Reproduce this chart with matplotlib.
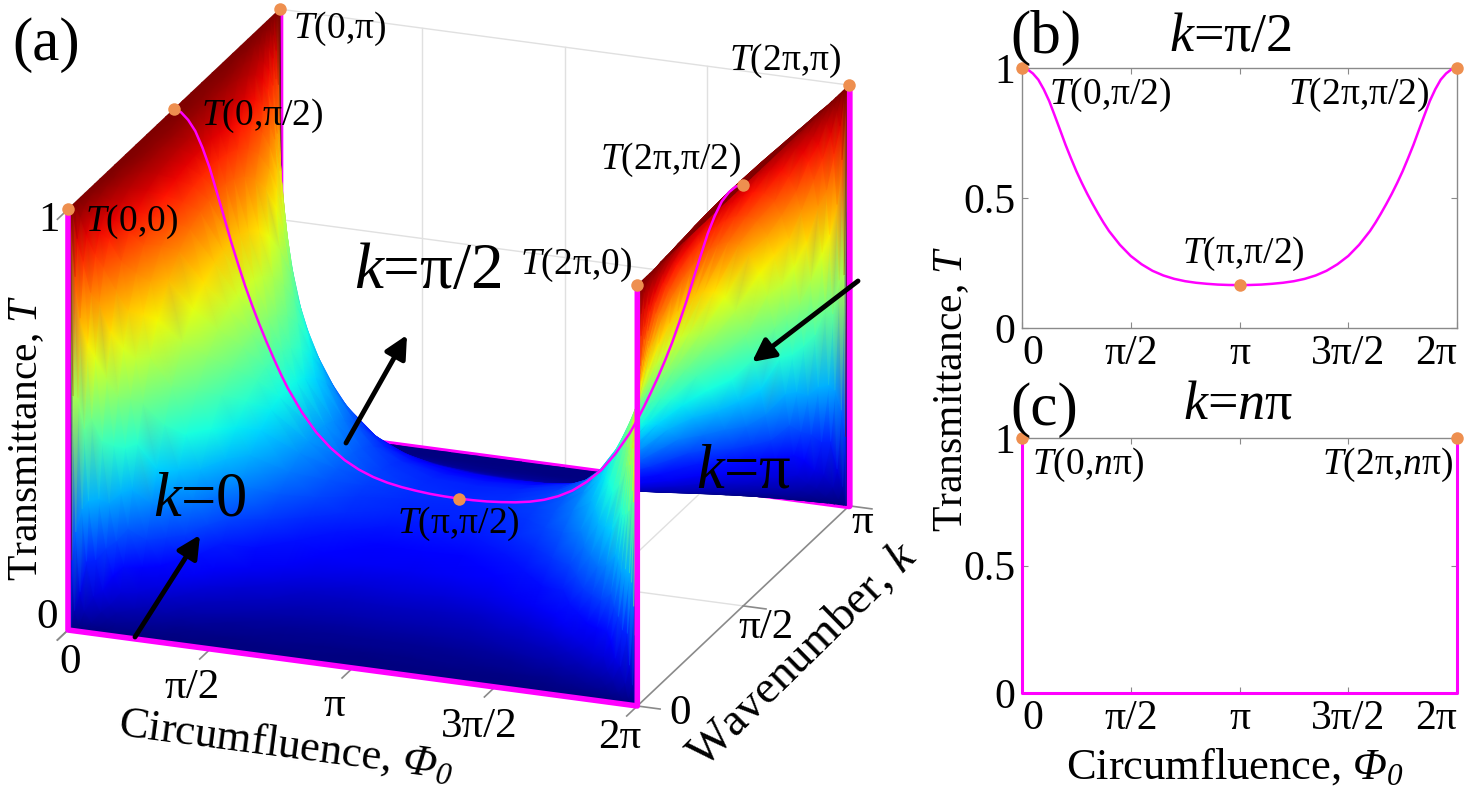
import numpy as np
import matplotlib
matplotlib.use("Agg")
import matplotlib.pyplot as plt
import matplotlib.tri as mtri
from mpl_toolkits.mplot3d import proj3d

plt.rcParams['font.family'] = ['Liberation Serif', 'DejaVu Serif']
plt.rcParams['mathtext.fontset'] = 'custom'
plt.rcParams['mathtext.rm'] = 'Liberation Serif'
plt.rcParams['mathtext.it'] = 'Liberation Serif:italic'
plt.rcParams['mathtext.bf'] = 'Liberation Serif:bold'
plt.rcParams['mathtext.cal'] = 'Liberation Serif:italic'

PI = np.pi
W, H = 1468, 792

# ---------------------------------------------------------------- data
# surface samples: Phi0/pi on [0, 1] (mirror-symmetric about pi)
phi_over_pi = [0, 0.01, 0.02, 0.035, 0.05, 0.075, 0.1, 0.125, 0.15, 0.2, 0.25,
               0.3, 0.35, 0.4, 0.5, 0.6, 0.7, 0.85, 1.0]
# surface samples: k/pi on [0, 1/2] (mirror-symmetric about pi/2)
k_over_pi = [0, 0.004, 0.01, 0.02, 0.03, 0.045, 0.06, 0.08, 0.1, 0.125, 0.15,
             0.185, 0.22, 0.27, 0.32, 0.37, 0.42, 0.46, 0.5]

# transmittance T(Phi0, k) along Phi0 for each k sample
T_k0000 = [1, 0, 0, 0, 0, 0, 0, 0, 0, 0, 0, 0, 0, 0, 0, 0, 0, 0, 0]
T_k0004 = [1, 0.165, 0.0457, 0.0154, 0.0075, 0.0034, 0.0018, 0.0011, 0.0007, 0.0004,
           0.0002, 0.0001, 0.0001, 0.0001, 0, 0, 0, 0, 0]
T_k0010 = [1, 0.552, 0.230, 0.089, 0.0449, 0.0206, 0.0109, 0.0067, 0.0044, 0.0024,
           0.0015, 0.0011, 0.0008, 0.0006, 0.0004, 0.0003, 0.0002, 0.0002, 0.0002]
T_k0020 = [1, 0.831, 0.544, 0.281, 0.158, 0.0774, 0.0423, 0.0264, 0.0174, 0.0093,
           0.0060, 0.0042, 0.0031, 0.0023, 0.0015, 0.0011, 0.0009, 0.0008, 0.0008]
T_k0030 = [1, 0.917, 0.729, 0.467, 0.297, 0.159, 0.0902, 0.0574, 0.0383, 0.0207,
           0.0133, 0.0094, 0.0069, 0.0052, 0.0034, 0.0025, 0.0021, 0.0018, 0.0017]
T_k0045 = [1, 0.961, 0.857, 0.663, 0.486, 0.297, 0.182, 0.120, 0.0819, 0.0453,
           0.0293, 0.0207, 0.0154, 0.0117, 0.0075, 0.0056, 0.0046, 0.0041, 0.0039]
T_k0060 = [1, 0.978, 0.914, 0.777, 0.626, 0.428, 0.282, 0.194, 0.136, 0.0774,
           0.0506, 0.0361, 0.0268, 0.0205, 0.0133, 0.0098, 0.0081, 0.0071, 0.0069]
T_k0080 = [1, 0.987, 0.949, 0.860, 0.747, 0.568, 0.409, 0.298, 0.2175, 0.1288,
           0.0859, 0.0619, 0.0463, 0.0355, 0.0231, 0.0171, 0.0142, 0.0125, 0.0121]
T_k0100 = [1, 0.992, 0.967, 0.904, 0.820, 0.670, 0.517, 0.396, 0.300, 0.186,
           0.1267, 0.0924, 0.0698, 0.0538, 0.0353, 0.0262, 0.0218, 0.0192, 0.0185]
T_k0125 = [1, 0.995, 0.978, 0.935, 0.875, 0.757, 0.621, 0.502, 0.397, 0.259,
           0.182, 0.135, 0.1032, 0.0801, 0.0531, 0.0397, 0.0330, 0.0291, 0.0281]
T_k0150 = [1, 0.996, 0.984, 0.953, 0.908, 0.814, 0.698, 0.586, 0.481, 0.330,
           0.238, 0.180, 0.139, 0.109, 0.0732, 0.0549, 0.0458, 0.0405, 0.0391]
T_k0185 = [1, 0.997, 0.989, 0.968, 0.935, 0.865, 0.771, 0.674, 0.575, 0.419,
           0.314, 0.243, 0.1915, 0.152, 0.1035, 0.0784, 0.0656, 0.0582, 0.0562]
T_k0220 = [1, 0.998, 0.992, 0.976, 0.951, 0.896, 0.820, 0.736, 0.646, 0.493,
           0.382, 0.302, 0.242, 0.195, 0.1347, 0.1028, 0.0865, 0.0768, 0.0743]
T_k0270 = [1, 0.999, 0.994, 0.982, 0.964, 0.923, 0.863, 0.795, 0.717, 0.574,
           0.461, 0.375, 0.307, 0.251, 0.1773, 0.137, 0.1159, 0.1033, 0.1001]
T_k0320 = [1, 0.999, 0.995, 0.986, 0.971, 0.938, 0.889, 0.830, 0.762, 0.630,
           0.520, 0.432, 0.359, 0.298, 0.2145, 0.1674, 0.1425, 0.1274, 0.1235]
T_k0370 = [1, 0.999, 0.996, 0.988, 0.976, 0.947, 0.904, 0.853, 0.791, 0.668,
           0.561, 0.473, 0.398, 0.334, 0.244, 0.192, 0.1641, 0.1471, 0.1427]
T_k0420 = [1, 0.999, 0.996, 0.989, 0.978, 0.952, 0.913, 0.866, 0.808, 0.692,
           0.588, 0.500, 0.424, 0.358, 0.2644, 0.2093, 0.1794, 0.1612, 0.1564]
T_k0460 = [1, 0.999, 0.997, 0.990, 0.979, 0.954, 0.917, 0.871, 0.816, 0.702,
           0.599, 0.512, 0.436, 0.369, 0.274, 0.2173, 0.1866, 0.1678, 0.1628]
T_k0500 = [1, 0.9992, 0.9967, 0.990, 0.979, 0.955, 0.918, 0.873, 0.818, 0.705,
           0.603, 0.516, 0.440, 0.373, 0.277, 0.220, 0.189, 0.170, 0.165]

# k = pi/2 profile: Phi0/pi on [0, 1] (mirror-symmetric about pi)
phi_b_over_pi = [0, 0.025, 0.05, 0.075, 0.1, 0.125, 0.15, 0.175, 0.2, 0.225, 0.25,
                 0.275, 0.3, 0.325, 0.35, 0.375, 0.4, 0.45, 0.5, 0.55, 0.6, 0.65,
                 0.7, 0.75, 0.8, 0.85, 0.9, 0.95, 1.0]
T_b = [1, 0.995, 0.979, 0.955, 0.918, 0.873, 0.818, 0.762, 0.705, 0.653, 0.603,
       0.558, 0.516, 0.477, 0.440, 0.405, 0.373, 0.320, 0.277, 0.245, 0.220, 0.202,
       0.189, 0.180, 0.174, 0.170, 0.167, 0.1655, 0.165]

# k = n*pi (panel c, and the k = 0 / k = pi edges of panel a)
phi_c_over_pi = [0, 0, 2, 2]
T_c = [1, 0, 0, 1]

# tick labels
phi_tick_over_pi = [0, 0.5, 1, 1.5, 2]
phi_tick_labels = ['0', 'π/2', 'π', '3π/2', '2π']
k_tick_over_pi = [0, 0.5, 1]
k_tick_labels = ['0', 'π/2', 'π']
T_ticks = [0, 0.5, 1]
T_tick_labels = ['0', '0.5', '1']

# ---------------------------------------------------------------- build grids
pq = np.array(phi_over_pi, float)
kq = np.array(k_over_pi, float)
rows = np.array([T_k0000, T_k0004, T_k0010, T_k0020, T_k0030, T_k0045, T_k0060,
                 T_k0080, T_k0100, T_k0125, T_k0150, T_k0185, T_k0220, T_k0270,
                 T_k0320, T_k0370, T_k0420, T_k0460, T_k0500], float)
phi_full = np.concatenate([pq, 2 - pq[-2::-1]]) * PI
k_full = np.concatenate([kq, 1 - kq[-2::-1]]) * PI
rows_phi = np.concatenate([rows, rows[:, -2::-1]], axis=1)
T_grid = np.concatenate([rows_phi, rows_phi[-2::-1, :]], axis=0)
PHI, K = np.meshgrid(phi_full, k_full)

pb = np.array(phi_b_over_pi, float)
phi_b = np.concatenate([pb, 2 - pb[-2::-1]]) * PI
Tb = np.array(T_b, float)
Tb_full = np.concatenate([Tb, Tb[-2::-1]])

phi_c = np.array(phi_c_over_pi, float) * PI
T_c = np.array(T_c, float)

PINK = '#ff00ff'
ORANGE = '#ee8f4f'
GRID = '#e0e0e0'
AXC = '#8a8a8a'
TICK_A = 31
TICK_FS = 30
PT_FS = 27

fig = plt.figure(figsize=(W / 100, H / 100), dpi=100)
fig.patch.set_facecolor('white')


def setup3d(a):
    a.set_proj_type('ortho')
    a.view_init(elev=20.8, azim=-69.4)
    a.set_box_aspect((1.0, 0.99, 0.74))
    a.set_xlim(0, 2 * PI)
    a.set_ylim(0, PI)
    a.set_zlim(0, 1)
    a.set_axis_off()
    a.patch.set_visible(False)


# ---------------------------------------------------------------- panel (a): back layer
ax = fig.add_axes([0.0, 0.0, 0.6, 0.6 * W / H], projection='3d', computed_zorder=False)
setup3d(ax)
ax.set_zorder(0)


def proj_px(a, x, y, z):
    xs, ys, zs = proj3d.proj_transform(np.atleast_1d(np.asarray(x, float)),
                                       np.atleast_1d(np.asarray(y, float)),
                                       np.atleast_1d(np.asarray(z, float)),
                                       a.get_proj())
    d = a.transData.transform(np.column_stack([xs, ys]))
    return np.column_stack([d[:, 0], H - d[:, 1]]), zs


# fit the projected box onto the reference location
fig.canvas.draw()
for _ in range(3):
    A = proj_px(ax, 0, 0, 0)[0][0]
    B = proj_px(ax, 2 * PI, PI, 0)[0][0]
    C = proj_px(ax, 0, PI, 1)[0][0]
    D = proj_px(ax, 2 * PI, 0, 0)[0][0]
    fx = (849 - 68) / (B[0] - A[0])
    fy = (705 - 8) / (D[1] - C[1])
    f = 0.5 * (fx + fy)
    pos = ax.get_position()
    cx = 0.5 * (pos.x0 + pos.x1) * W
    cy = H - 0.5 * (pos.y0 + pos.y1) * H
    ncx = 68 - f * (A[0] - cx)
    ncy = 630 - f * (A[1] - cy)
    side = pos.width * W * f
    ax.set_position([(ncx - side / 2) / W, (H - ncy - side / 2) / H, side / W, side / H])
    fig.canvas.draw()

# grid on back panes
for t in phi_tick_over_pi[1:-1]:
    ax.plot([t * PI] * 2, [PI, PI], [0, 1], color=GRID, lw=1.0)
    ax.plot([t * PI] * 2, [0, PI], [0, 0], color=GRID, lw=1.0)
for t in T_ticks[1:]:
    ax.plot([0, 2 * PI], [PI, PI], [t, t], color=GRID, lw=1.0)
    ax.plot([0, 0], [0, PI], [t, t], color=GRID, lw=1.0)
ax.plot([0, 2 * PI], [PI / 2] * 2, [0, 0], color=GRID, lw=1.0)
ax.plot([0, 0], [PI / 2] * 2, [0, 1], color=GRID, lw=1.0)

# axis lines and ticks
ax.plot([0, 2 * PI], [0, 0], [0, 0], color=AXC, lw=1.2)
ax.plot([2 * PI, 2 * PI], [0, PI], [0, 0], color=AXC, lw=1.2)
ax.plot([0, 0], [0, 0], [0, 1], color=AXC, lw=1.2)
for t in phi_tick_over_pi:
    ax.plot([t * PI] * 2, [0, -0.05 * PI], [0, 0], color=AXC, lw=1.2)
for t in k_tick_over_pi:
    ax.plot([2 * PI, 2.08 * PI], [t * PI] * 2, [0, 0], color=AXC, lw=1.2)
for t in (T_ticks[0], T_ticks[-1]):
    ax.plot([0, 0], [0, -0.05 * PI], [t, t], color=AXC, lw=1.2)

# back edge (k = pi): partly hidden by the surface
ax.plot(phi_c, np.full(4, PI), T_c, color=PINK, lw=5, solid_capstyle='butt')

# ---------------------------------------------------------------- surface layer
ovs = fig.add_axes([0, 0, 1, 1])
ovs.set_xlim(0, W)
ovs.set_ylim(H, 0)
ovs.axis('off')
ovs.patch.set_visible(False)
ovs.set_zorder(1)

Tv = T_grid.ravel()
xy, zs = proj_px(ax, PHI.ravel(), K.ravel(), Tv)
nr, nc = PHI.shape
idx = np.arange(nr * nc).reshape(nr, nc)
ca = idx[:-1, :-1].ravel()
cb = idx[:-1, 1:].ravel()
cc = idx[1:, 1:].ravel()
cd = idx[1:, :-1].ravel()
use_ac = np.abs(Tv[ca] - Tv[cc]) <= np.abs(Tv[cb] - Tv[cd])
t1 = np.where(use_ac[:, None], np.stack([ca, cb, cc], 1), np.stack([ca, cb, cd], 1))
t2 = np.where(use_ac[:, None], np.stack([ca, cc, cd], 1), np.stack([cb, cc, cd], 1))
tris = np.concatenate([t1, t2])
depth = zs[tris].mean(axis=1)
tris = tris[np.argsort(-depth, kind='stable')]
triang = mtri.Triangulation(xy[:, 0], xy[:, 1], triangles=tris)
ovs.tripcolor(triang, Tv, cmap='jet', vmin=0, vmax=1, shading='gouraud')

# ---------------------------------------------------------------- panel (a): front layer
axf = fig.add_axes(ax.get_position(), projection='3d', computed_zorder=False)
setup3d(axf)
axf.set_zorder(2)
axf.plot(phi_c, np.zeros(4), T_c, color=PINK, lw=4)
axf.plot(phi_b, np.full_like(phi_b, PI / 2), Tb_full, color=PINK, lw=1.8)
axf.plot(phi_c[2:], np.full(2, PI), T_c[2:], color=PINK, lw=3)

pts_a = [
    (0, 0, T_c[0], '$T$(0,0)', (17, 13), 'left'),
    (0, 0.5, T_b[0], '$T$(0,π/2)', (27, 7), 'left'),
    (0, 1, T_c[0], '$T$(0,π)', (13, 20), 'left'),
    (2, 0, T_c[-1], '$T$(2π,0)', (-5, -20), 'right'),
    (2, 0.5, T_b[0], '$T$(2π,π/2)', (-2, -25), 'right'),
    (2, 1, T_c[-1], '$T$(2π,π)', (-8, -24), 'right'),
    (1, 0.5, T_b[-1], '$T$(π,π/2)', (0, 25), 'center'),
]
for p, k, t, _, _, _ in pts_a:
    axf.plot([p * PI], [k * PI], [t], 'o', ms=9, color=ORANGE, mec='none')

# ---------------------------------------------------------------- panels (b), (c)
axb = fig.add_axes([1022 / W, (H - 328) / H, 435 / W, 260 / H])
axc = fig.add_axes([1022 / W, (H - 693) / H, 435 / W, 255 / H])
for a in (axb, axc):
    a.set_zorder(3)
    a.set_xlim(0, 2 * PI)
    a.set_ylim(0, 1)
    a.set_xticks(np.array(phi_tick_over_pi) * PI)
    a.set_xticklabels(phi_tick_labels)
    a.set_yticks(T_ticks)
    a.set_yticklabels(T_tick_labels)
    a.tick_params(direction='in', top=True, right=True, length=4, width=0.8,
                  color=AXC, labelsize=TICK_FS, pad=5)
    for s in a.spines.values():
        s.set_color(AXC)
        s.set_linewidth(1.0)
    xl = a.get_xticklabels()
    xl[0].set_ha('left')
    xl[-1].set_ha('right')

axb.plot(phi_b, Tb_full, color=PINK, lw=1.8, clip_on=False, zorder=3)
for p, t in [(0, T_b[0]), (2, T_b[0]), (1, T_b[-1])]:
    axb.plot([p * PI], [t], 'o', ms=9, color=ORANGE, mec='none', clip_on=False, zorder=5)
axb.annotate('$T$(0,π/2)', (0, T_b[0]), xytext=(27, -27), textcoords='offset pixels',
             ha='left', va='center', fontsize=PT_FS)
axb.annotate('$T$(2π,π/2)', (2 * PI, T_b[0]), xytext=(-28, -27), textcoords='offset pixels',
             ha='right', va='center', fontsize=PT_FS)
axb.annotate('$T$(π,π/2)', (PI, T_b[-1]), xytext=(4, 31), textcoords='offset pixels',
             ha='center', va='center', fontsize=PT_FS)

axc.plot(phi_c, T_c, color=PINK, lw=2.2, clip_on=False, zorder=3)
for p, t in [(0, T_c[0]), (2, T_c[-1])]:
    axc.plot([p * PI], [t], 'o', ms=9, color=ORANGE, mec='none', clip_on=False, zorder=5)
axc.annotate('$T$(0,$n$π)', (0, 1), xytext=(10, -27), textcoords='offset pixels',
             ha='left', va='center', fontsize=PT_FS)
axc.annotate('$T$(2π,$n$π)', (2 * PI, 1), xytext=(-4, -27), textcoords='offset pixels',
             ha='right', va='center', fontsize=PT_FS)

# ---------------------------------------------------------------- text overlay
ov = fig.add_axes([0, 0, 1, 1])
ov.set_xlim(0, W)
ov.set_ylim(H, 0)
ov.axis('off')
ov.patch.set_visible(False)
ov.set_zorder(10)

for p, k, t, lab, (dx, dy), ha in pts_a:
    q = proj_px(ax, p * PI, k * PI, t)[0][0]
    ov.text(q[0] + dx, q[1] + dy, lab, ha=ha, va='center', fontsize=PT_FS)

phi_off = [(2, 33), (-18, 39), (-18, 38), (-16, 40), (-18, 32)]
for t, lab, (dx, dy) in zip(phi_tick_over_pi, phi_tick_labels, phi_off):
    q = proj_px(ax, t * PI, 0, 0)[0][0]
    ov.text(q[0] + dx, q[1] + dy, lab, ha='center', va='center', fontsize=TICK_A)
k_off = [(43, 8), (23, 22), (13, 17)]
for t, lab, (dx, dy) in zip(k_tick_over_pi, k_tick_labels, k_off):
    q = proj_px(ax, 2 * PI, t * PI, 0)[0][0]
    ov.text(q[0] + dx, q[1] + dy, lab, ha='center', va='center', fontsize=TICK_A)
T_off = {0: (-21, -12), 1: (-19, 11)}
for t, lab in zip(T_ticks, T_tick_labels):
    if t in T_off:
        dx, dy = T_off[t]
        q = proj_px(ax, 0, 0, t)[0][0]
        ov.text(q[0] + dx, q[1] + dy, lab, ha='center', va='center', fontsize=TICK_A)

PHI0 = '$\\mathcal{Φ}_{\\mathcal{0}}$'
ov.text(27, 438, 'Transmittance, $T$', rotation=90, ha='center', va='center', fontsize=30)
ov.text(286, 745, 'Circumfluence, ' + PHI0, rotation=-7.5,
        ha='center', va='center', fontsize=32, rotation_mode='anchor')
ov.text(803, 655, 'Wavenumber, $k$', rotation=44.5, ha='center', va='center',
        fontsize=34, rotation_mode='anchor')
ov.text(46, 45, '(a)', ha='center', va='center', fontsize=44)

arrow_kw = dict(arrowstyle='-|>', color='k', lw=3.5, mutation_scale=34,
                shrinkA=0, shrinkB=0)
ov.annotate('', xy=(407, 335), xytext=(346, 443), arrowprops=arrow_kw)
ov.annotate('', xy=(200, 535), xytext=(135, 637), arrowprops=arrow_kw)
ov.annotate('', xy=(752, 362), xytext=(858, 281), arrowprops=arrow_kw)
ov.text(428, 272, '$k$=π/2', ha='center', va='center', fontsize=47)
ov.text(200, 500, '$k$=0', ha='center', va='center', fontsize=45)
ov.text(744, 472, '$k$=π', ha='center', va='center', fontsize=45)

ov.text(1046, 38, '(b)', ha='center', va='center', fontsize=44)
ov.text(1231, 38, '$k$=π/2', ha='center', va='center', fontsize=39)
ov.text(1044, 410, '(c)', ha='center', va='center', fontsize=44)
ov.text(1238, 405, '$k$=$n$π', ha='center', va='center', fontsize=39)
ov.text(952, 389, 'Transmittance, $T$', rotation=90, ha='center', va='center', fontsize=30)
ov.text(1235, 767, 'Circumfluence, ' + PHI0, ha='center', va='center', fontsize=32)

fig.savefig('out.png', dpi=100, facecolor='white')
